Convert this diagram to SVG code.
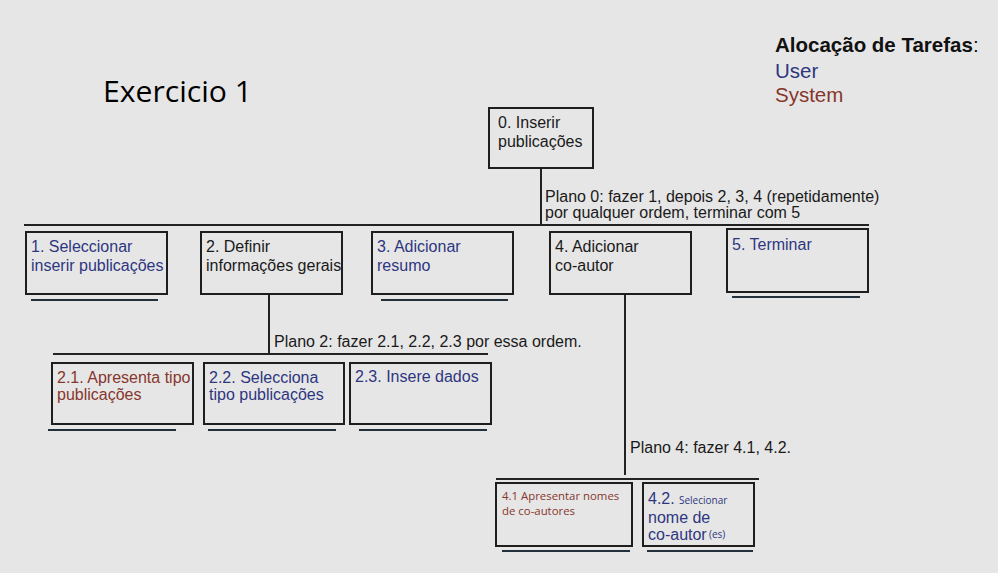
<svg xmlns="http://www.w3.org/2000/svg" width="998" height="573" viewBox="0 0 998 573">
<style>
.box{fill:none;stroke:#1e1e1e;stroke-width:2}
.ul{stroke:#22303c;stroke-width:2}
.ln{stroke:#222;stroke-width:2;fill:none}
text{font-family:"Liberation Sans",Arial,sans-serif;font-size:16px}
.k{fill:#1a1a1a}
.u{fill:#2e3680}
.s{fill:#86362c}
.sm{font-family:"Open Sans","Noto Sans",sans-serif}
</style>
<rect width="998" height="573" fill="#e6e6e6"/>
<text x="103" y="102" class="sm" style="font-size:30px" fill="#000" textLength="149" lengthAdjust="spacingAndGlyphs">Exercicio 1</text>
<g id="legend">
<text x="775" y="52" style="font-size:20.5px;font-weight:bold" fill="#111">Alocação de Tarefas<tspan style="font-weight:normal">:</tspan></text>
<text x="775" y="78" style="font-size:20.5px" class="u">User</text>
<text x="775" y="102" style="font-size:20.5px" class="s">System</text>
</g>
<g id="connectors">
<line class="ln" x1="541" y1="168" x2="541" y2="225"/>
<line class="ln" x1="24" y1="225" x2="869" y2="225"/>
<line class="ln" x1="269" y1="294" x2="269" y2="354"/>
<line class="ln" x1="53" y1="354" x2="488" y2="354"/>
<line class="ln" x1="625" y1="294" x2="625" y2="475"/>
<line class="ln" x1="496" y1="479" x2="759" y2="479"/>
<text x="545" y="202" class="k">Plano 0: fazer 1, depois 2, 3, 4 (repetidamente)</text>
<text x="545" y="218" class="k">por qualquer ordem, terminar com 5</text>
<text x="274" y="347" class="k">Plano 2: fazer 2.1, 2.2, 2.3 por essa ordem.</text>
<text x="630" y="453" class="k">Plano 4: fazer 4.1, 4.2.</text>
</g>
<g id="n0">
<rect class="box" x="489" y="108" width="104" height="60"/>
<text x="498" y="128" class="k">0. Inserir</text>
<text x="498" y="147" class="k">publicações</text>
</g>
<g id="n1">
<rect class="box" x="26" y="232" width="141" height="62"/>
<line class="ul" x1="31" y1="300" x2="158" y2="300"/>
<text x="31" y="252" class="u">1. Seleccionar</text>
<text x="31" y="271" class="u">inserir publicações</text>
</g>
<g id="n2">
<rect class="box" x="201" y="232" width="141" height="62"/>
<text x="206" y="252" class="k">2. Definir</text>
<text x="206" y="271" class="k">informações gerais</text>
</g>
<g id="n3">
<rect class="box" x="372" y="232" width="141" height="62"/>
<line class="ul" x1="381" y1="300" x2="508" y2="300"/>
<text x="377" y="252" class="u">3. Adicionar</text>
<text x="377" y="271" class="u">resumo</text>
</g>
<g id="n4">
<rect class="box" x="550" y="232" width="141" height="62"/>
<text x="555" y="252" class="k">4. Adicionar</text>
<text x="555" y="271" class="k">co-autor</text>
</g>
<g id="n5">
<rect class="box" x="727" y="229" width="141" height="63"/>
<line class="ul" x1="732" y1="297" x2="860" y2="297"/>
<text x="732" y="250" class="u">5. Terminar</text>
</g>
<g id="n21">
<rect class="box" x="52" y="363" width="141" height="61"/>
<line class="ul" x1="48" y1="430" x2="176" y2="430"/>
<text x="57" y="383" class="s">2.1. Apresenta tipo</text>
<text x="57" y="400" class="s">publicações</text>
</g>
<g id="n22">
<rect class="box" x="204" y="363" width="140" height="61"/>
<line class="ul" x1="208" y1="430" x2="336" y2="430"/>
<text x="209" y="383" class="u">2.2. Selecciona</text>
<text x="209" y="400" class="u">tipo publicações</text>
</g>
<g id="n23">
<rect class="box" x="350" y="363" width="141" height="61"/>
<line class="ul" x1="359" y1="430" x2="487" y2="430"/>
<text x="355" y="382" class="u">2.3. Insere dados</text>
</g>
<g id="n41">
<rect class="box" x="496" y="483" width="136" height="63"/>
<line class="ul" x1="502" y1="551" x2="630" y2="551"/>
<text x="502" y="500" class="s sm" style="font-size:11.4px">4.1 Apresentar nomes</text>
<text x="502" y="515" class="s sm" style="font-size:11.4px">de co-autores</text>
</g>
<g id="n42">
<rect class="box" x="643" y="483" width="111" height="63"/>
<line class="ul" x1="647" y1="551" x2="753" y2="551"/>
<text x="648" y="504" class="u">4.2. <tspan x="679" class="sm" style="font-size:10px">Selecionar</tspan></text>
<text x="648" y="523" class="u">nome de</text>
<text x="648" y="540" class="u">co-autor<tspan x="709" dy="-2" class="sm" style="font-size:10px">(es)</tspan></text>
</g>
</svg>
